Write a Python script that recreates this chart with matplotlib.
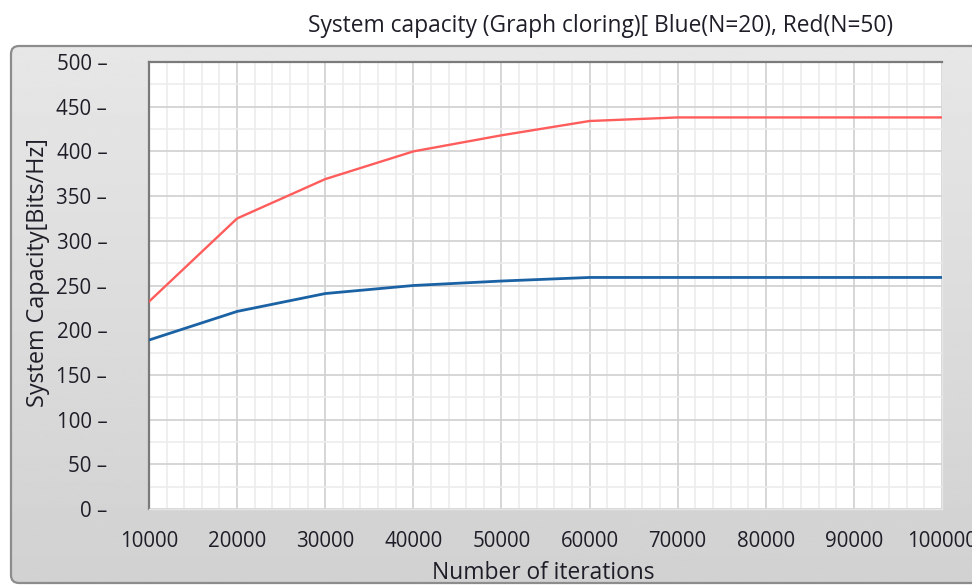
import numpy as np
import matplotlib
matplotlib.use("Agg")
import matplotlib.pyplot as plt
from matplotlib.patches import FancyBboxPatch
from matplotlib.ticker import MultipleLocator

# iterations on the x axis, capacity for two network sizes
iterations = [10000, 20000, 30000, 40000, 50000, 60000, 70000, 80000, 90000, 100000]
capacity_n20 = [189, 221, 241, 250, 255, 259, 259, 259, 259, 259]
capacity_n50 = [232, 325, 369, 400, 418, 434, 438, 438, 438, 438]

y_ticks = [0, 50, 100, 150, 200, 250, 300, 350, 400, 450, 500]
x_ticks = iterations

plt.rcParams["font.family"] = ["Open Sans", "DejaVu Sans"]
TXT = "#1e1e28"

W, H = 972, 586
fig = plt.figure(figsize=(W / 100, H / 100), dpi=100)
fig.patch.set_facecolor("white")

# grey rounded panel behind the plot
bg = fig.add_axes([0, 0, 1, 1])
bg.set_xlim(0, W)
bg.set_ylim(H, 0)
bg.axis("off")
panel = FancyBboxPatch((11, 46), 990, 537, boxstyle="round,pad=0,rounding_size=8",
                       facecolor="none", edgecolor="#8c8c8c", linewidth=1.6, zorder=3)
bg.add_patch(panel)
grad = np.linspace(0.905, 0.82, 256).reshape(-1, 1)
im = bg.imshow(grad, cmap="gray", vmin=0, vmax=1, extent=[11, 1001, 583, 46],
               aspect="auto", zorder=1)
im.set_clip_path(panel)

fig.text(601 / W, 1 - 26 / H, "System capacity (Graph cloring)[ Blue(N=20), Red(N=50)",
         ha="center", va="center", fontsize=16.4, color=TXT)

ax = fig.add_axes([149 / W, 77 / H, 793 / W, 447 / H])
ax.set_facecolor("white")
ax.set_xlim(10000, 100000)
ax.set_ylim(0, 500)

ax.xaxis.set_major_locator(MultipleLocator(10000))
ax.xaxis.set_minor_locator(MultipleLocator(2000))
ax.yaxis.set_major_locator(MultipleLocator(50))
ax.yaxis.set_minor_locator(MultipleLocator(25))
ax.grid(which="major", color="#d0d0d0", linewidth=1.2)
ax.grid(which="minor", color="#ececec", linewidth=1.2)
ax.set_axisbelow(True)

ax.set_xticks(x_ticks)
ax.set_xticklabels([str(v) for v in x_ticks])
ax.set_yticks(y_ticks)
ax.set_yticklabels([f"{v} \u2013" for v in y_ticks])
ax.tick_params(axis="both", which="both", length=0, labelsize=14.8, labelcolor=TXT)
ax.tick_params(axis="y", pad=30)
ax.tick_params(axis="x", pad=16)
for lbl in ax.get_xticklabels():
    lbl.set_clip_on(False)

ax.plot(iterations, capacity_n50, color="#ff5c5c", linewidth=1.7, zorder=3)
ax.plot(iterations, capacity_n20, color="#1b62a5", linewidth=2.0, zorder=3)

for side in ("top", "left"):
    ax.spines[side].set_color("#7a7a7a")
    ax.spines[side].set_linewidth(1.6)
for side in ("right", "bottom"):
    ax.spines[side].set_color("#e6e6e6")
    ax.spines[side].set_linewidth(1.0)

fig.text(38 / W, 1 - 273 / H, "System Capacity[Bits/Hz]", rotation=90,
         ha="center", va="center", fontsize=16.8, color=TXT)
fig.text(543 / W, 1 - 573 / H, "Number of iterations",
         ha="center", va="center", fontsize=16.4, color=TXT)

fig.savefig("out.png", dpi=100)
